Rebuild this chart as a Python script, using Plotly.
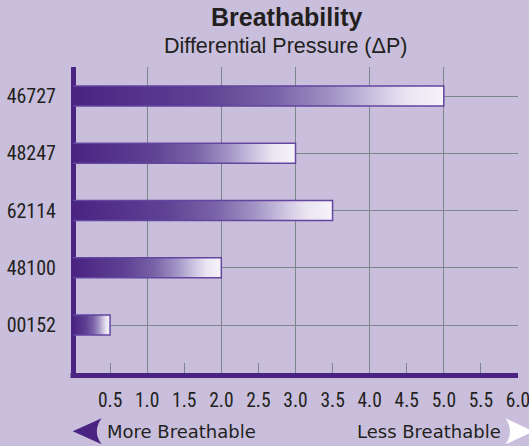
import plotly.graph_objects as go

# ---- data ----
categories = ["00152", "48100", "62114", "48247", "46727"]   # bottom -> top
values = [0.5, 2.0, 3.5, 3.0, 5.0]
x_tick_values = [0.5, 1.0, 1.5, 2.0, 2.5, 3.0, 3.5, 4.0, 4.5, 5.0, 5.5, 6.0]
x_tick_labels = ["0.5", "1.0", "1.5", "2.0", "2.5", "3.0", "3.5", "4.0", "4.5", "5.0", "5.5", "6.0"]
grid_values = [1, 2, 3, 4, 5, 6]
title_text = "Breathability"
subtitle_text = "Differential Pressure (ΔP)"
left_note = "More Breathable"
right_note = "Less Breathable"

# ---- style ----
W, H = 529, 446
L, R, T, B = 73, 10.5, 66.7, 73.3
PW, PH = W - L - R, H - T - B
BG = "#C9BFDC"
PURPLE = "#4B2483"
GRID = "#7B878C"
TEXT = "#231F20"
NARROW = "Liberation Sans Narrow, Arial Narrow, Roboto Condensed, sans-serif"
HALF = 0.175

def px_x(p):
    return (p - L) / PW

def px_y(p):
    return (H - B - p) / PH

grad = [[0, "#4A2382"], [0.35, "#5E4193"], [0.55, "#7A63A8"], [0.7, "#A194C5"],
        [0.82, "#CFC6E2"], [0.9, "#EAE5F2"], [1, "#F6F3FA"]]

fig = go.Figure()
for i, (cat, v) in enumerate(zip(categories, values)):
    fig.add_trace(go.Scatter(
        x=[0, v, v, 0], y=[i - HALF, i - HALF, i + HALF, i + HALF],
        mode="lines", fill="toself",
        fillgradient=dict(type="horizontal", colorscale=grad),
        line=dict(color="#6246A0", width=1.5),
        name=cat, showlegend=False, hoverinfo="skip",
    ))

# invisible trace to carry the integer gridline axis
fig.add_trace(go.Scatter(x=[0], y=[0], xaxis="x2", mode="markers",
                         marker=dict(opacity=0), showlegend=False, hoverinfo="skip"))

fig.update_layout(
    width=W, height=H,
    margin=dict(l=L, r=R, t=T, b=B, autoexpand=False),
    paper_bgcolor=BG, plot_bgcolor=BG,
    xaxis=dict(range=[0, 6], tickvals=x_tick_values, ticktext=x_tick_labels,
               ticks="inside", ticklen=10, tickwidth=1.4, tickcolor=GRID,
               showgrid=False, zeroline=True, zerolinecolor=PURPLE, zerolinewidth=5,
               showline=True, linecolor=PURPLE, linewidth=5, automargin=False,
               tickfont=dict(family=NARROW, size=19.5, color=TEXT),
               ticklabelstandoff=6, ticklabeloverflow="allow", fixedrange=True),
    xaxis2=dict(range=[0, 6], overlaying="x", matches="x", tickvals=grid_values,
                showgrid=True, gridcolor=GRID, gridwidth=1.4, showticklabels=False,
                ticks="", zeroline=False, showline=False, anchor="y", automargin=False),
    yaxis=dict(range=[-0.838, 4.507], tickvals=list(range(len(categories))),
               ticktext=categories, showgrid=True, gridcolor=GRID, gridwidth=1.4,
               zeroline=False, showline=False, ticks="", automargin=False,
               tickfont=dict(family=NARROW, size=20, color=TEXT),
               ticklabelstandoff=16, fixedrange=True),
    annotations=[
        dict(text="<b>" + title_text + "</b>", xref="paper", yref="paper",
             x=px_x(287), y=px_y(17), xanchor="center", yanchor="middle",
             showarrow=False, font=dict(family="Liberation Sans, Arial, sans-serif", size=25, color=TEXT)),
        dict(text=subtitle_text, xref="paper", yref="paper",
             x=px_x(286), y=px_y(46), xanchor="center", yanchor="middle",
             showarrow=False, font=dict(family="Liberation Sans, Arial, sans-serif", size=21.5, color=TEXT)),
        dict(text=left_note, xref="paper", yref="paper",
             x=px_x(105), y=px_y(431), xanchor="left", yanchor="middle",
             showarrow=False, font=dict(family="DejaVu Sans, sans-serif", size=18, color=TEXT)),
        dict(text=right_note, xref="paper", yref="paper",
             x=px_x(503), y=px_y(431), xanchor="right", yanchor="middle",
             showarrow=False, font=dict(family="DejaVu Sans, sans-serif", size=18, color=TEXT)),
    ],
    shapes=[
        dict(type="path", xref="paper", yref="paper",
             path=(f"M {px_x(72.7)} {px_y(431)} L {px_x(101.7)} {px_y(418)} "
                   f"Q {px_x(92)} {px_y(431)} {px_x(101.7)} {px_y(444)} Z"),
             fillcolor=PURPLE, line=dict(width=0)),
        dict(type="path", xref="paper", yref="paper",
             path=(f"M {px_x(534)} {px_y(431)} L {px_x(506)} {px_y(418)} "
                   f"Q {px_x(515)} {px_y(431)} {px_x(506)} {px_y(444)} Z"),
             fillcolor="white", line=dict(width=0)),
        dict(type="rect", xref="paper", yref="paper",
             x0=px_x(70.5), x1=px_x(75.5), y0=px_y(377.7), y1=px_y(372.7),
             fillcolor=PURPLE, line=dict(width=0)),
    ],
)

fig.write_html("out.html", config={"displayModeBar": False},
               post_script="document.body.style.margin='0px';document.body.style.overflow='hidden';")
